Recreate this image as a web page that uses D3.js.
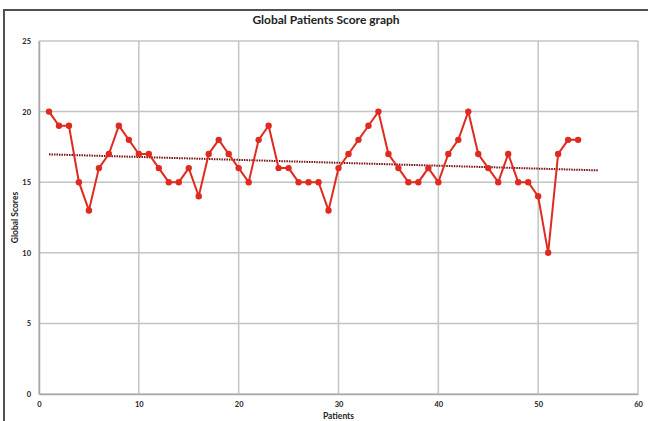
<!DOCTYPE html>
<html>
<head>
<meta charset="utf-8">
<script src="https://cdn.jsdelivr.net/npm/d3@7"></script>
<style>
  html, body { margin: 0; padding: 0; background: #fff; }
  svg { display: block; }
  text { font-family: Lato, "Open Sans", "Liberation Sans", sans-serif; }
</style>
</head>
<body>
<svg id="chart" width="648" height="421"></svg>
<script>
const title = "Global Patients Score graph";
const xLabel = "Patients";
const yLabel = "Global Scores";
const patients = d3.range(1, 55);
const scores = [20,19,19,15,13,16,17,19,18,17,
                17,16,15,15,16,14,17,18,17,16,
                15,18,19,16,16,15,15,15,13,16,
                17,18,19,20,17,16,15,15,16,15,
                17,18,20,17,16,15,17,15,15,14,
                10,17,18,18];
const xTicks = [0,10,20,30,40,50,60];
const yTicks = [0,5,10,15,20,25];
const trendForward = 2;

const svg = d3.select("#chart");
const m = {left: 39, right: 648 - 638, top: 41, bottom: 421 - 394};
const W = 648, H = 421;
const x = d3.scaleLinear().domain([0, 60]).range([m.left, W - m.right]);
const y = d3.scaleLinear().domain([0, 25]).range([H - m.bottom, m.top]);

// outer chart border
svg.append("path")
  .attr("d", `M4,421 L4,10 L648,10`)
  .attr("fill", "none").attr("stroke", "#505050").attr("stroke-width", 2);

// grid
const g = svg.append("g");
g.selectAll(".vg").data(xTicks).join("line")
  .attr("x1", d => x(d)).attr("x2", d => x(d))
  .attr("y1", y(25)).attr("y2", y(0))
  .attr("stroke", "#c4c4c4").attr("stroke-width", 1.5);
g.selectAll(".hg").data(yTicks).join("line")
  .attr("x1", x(0)).attr("x2", x(60))
  .attr("y1", d => y(d)).attr("y2", d => y(d))
  .attr("stroke", "#c4c4c4").attr("stroke-width", 1.5);

// axes
const xAxis = d3.axisBottom(x).tickValues(xTicks).tickSize(0).tickPadding(8);
const yAxis = d3.axisLeft(y).tickValues(yTicks).tickSize(0).tickPadding(8);
const ax = svg.append("g").attr("transform", `translate(0,${y(0)})`).call(xAxis);
const ay = svg.append("g").attr("transform", `translate(${x(0)},0)`).call(yAxis);
[ax, ay].forEach(a => {
  a.select(".domain").attr("stroke", "#a8a8a8").attr("stroke-width", 1.5);
  a.selectAll("text").attr("font-size", 7.5).attr("font-weight", "bold").attr("fill", "#222");
});

// trendline (linear regression)
const n = scores.length;
const mx = d3.mean(patients), my = d3.mean(scores);
let sxy = 0, sxx = 0;
patients.forEach((p, i) => { sxy += (p - mx) * (scores[i] - my); sxx += (p - mx) ** 2; });
const slope = sxy / sxx, icpt = my - slope * mx;
const tx0 = patients[0], tx1 = patients[n - 1] + trendForward;
svg.append("line")
  .attr("x1", x(tx0)).attr("y1", y(icpt + slope * tx0))
  .attr("x2", x(tx1)).attr("y2", y(icpt + slope * tx1))
  .attr("stroke", "#7a1010").attr("stroke-width", 2).attr("stroke-dasharray", "1.5,1");

// data line
const data = patients.map((p, i) => ({p, v: scores[i]}));
svg.append("path").datum(data)
  .attr("d", d3.line().x(d => x(d.p)).y(d => y(d.v)))
  .attr("fill", "none").attr("stroke", "#e02a20").attr("stroke-width", 2);
svg.selectAll(".pt").data(data).join("circle")
  .attr("cx", d => x(d.p)).attr("cy", d => y(d.v)).attr("r", 3.2)
  .attr("fill", "#e02a20");

// titles
svg.append("text").attr("x", 326).attr("y", 24).attr("text-anchor", "middle")
  .attr("font-size", 12).attr("font-weight", "bold").attr("fill", "#222").text(title);
svg.append("text").attr("x", (x(0) + x(60)) / 2).attr("y", 419).attr("text-anchor", "middle")
  .attr("font-size", 8.5).attr("font-weight", "bold").attr("fill", "#222").text(xLabel);
svg.append("text").attr("transform", `translate(18,${(y(0) + y(25)) / 2}) rotate(-90)`)
  .attr("text-anchor", "middle")
  .attr("font-size", 8.5).attr("font-weight", "bold").attr("fill", "#222").text(yLabel);
</script>
</body>
</html>
